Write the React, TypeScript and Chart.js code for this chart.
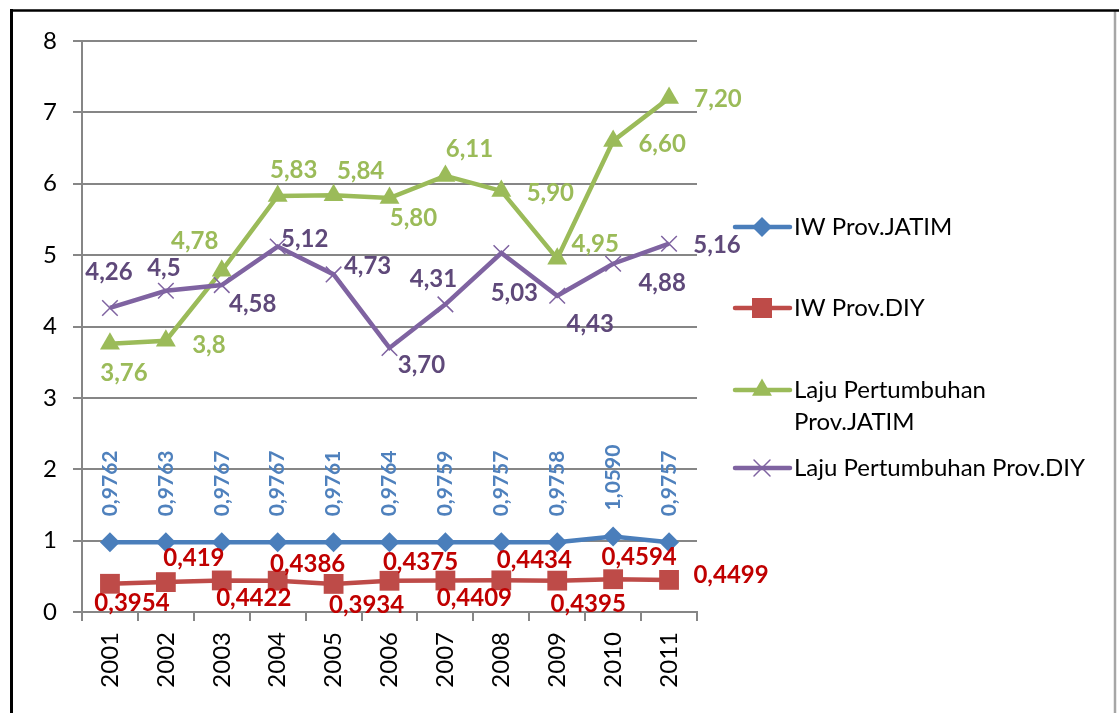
import React, { useEffect, useRef } from 'react';
import { Chart, registerables } from 'chart.js';

Chart.register(...registerables);

// ---------- data ----------
const years = ['2001', '2002', '2003', '2004', '2005', '2006', '2007', '2008', '2009', '2010', '2011'];

const iwJatim = [0.9762, 0.9763, 0.9767, 0.9767, 0.9761, 0.9764, 0.9759, 0.9757, 0.9758, 1.059, 0.9757];
const iwDiy = [0.3954, 0.419, 0.4422, 0.4386, 0.3934, 0.4375, 0.4409, 0.4434, 0.4395, 0.4594, 0.4499];
const lajuJatim = [3.76, 3.8, 4.78, 5.83, 5.84, 5.8, 6.11, 5.9, 4.95, 6.6, 7.2];
const lajuDiy = [4.26, 4.5, 4.58, 5.12, 4.73, 3.7, 4.31, 5.03, 4.43, 4.88, 5.16];

const iwJatimText = ['0,9762', '0,9763', '0,9767', '0,9767', '0,9761', '0,9764', '0,9759', '0,9757', '0,9758', '1,0590', '0,9757'];
const iwDiyText = ['0,3954', '0,419', '0,4422', '0,4386', '0,3934', '0,4375', '0,4409', '0,4434', '0,4395', '0,4594', '0,4499'];
const lajuJatimText = ['3,76', '3,8', '4,78', '5,83', '5,84', '5,80', '6,11', '5,90', '4,95', '6,60', '7,20'];
const lajuDiyText = ['4,26', '4,5', '4,58', '5,12', '4,73', '3,70', '4,31', '5,03', '4,43', '4,88', '5,16'];

const seriesNames = ['IW Prov.JATIM', 'IW Prov.DIY', 'Laju Pertumbuhan Prov.JATIM', 'Laju Pertumbuhan Prov.DIY'];
const legendLines = [['IW Prov.JATIM'], ['IW Prov.DIY'], ['Laju Pertumbuhan', 'Prov.JATIM'], ['Laju Pertumbuhan Prov.DIY']];

const yTicks = [0, 1, 2, 3, 4, 5, 6, 7, 8];

// ---------- styles ----------
const FONT = 'Lato, "Open Sans", sans-serif';
const W = 1119;
const H = 713;
const PLOT = { left: 82, right: 697, top: 41, bottom: 612 };
const GRID = '#868686';

const COLORS = {
  blue: '#4A7EBB',
  red: '#BE4B48',
  green: '#9BBB59',
  purple: '#7F63A1',
};
const LABEL_COLORS = ['#4F81BD', '#C00000', '#9BBB59', '#5F497A'];

// label offsets (dx, dy) relative to each point
const redLabelOffsets = [[22, 19], [28, -24], [32, 18], [30, -16], [33, 21], [31, -19], [29, 18], [33, -20], [31, 24], [26, -22], [62, -5]];
const greenLabelOffsets = [[14, 30], [43, 4], [-27, -30], [16, -26], [27, -24], [24, 20], [24, -27], [49, 2], [38, -14], [49, 3], [49, 1]];
const purpleLabelOffsets = [[-1, -36], [-2, -23], [31, 19], [27, -7], [34, -8], [32, 17], [-12, -25], [13, 40], [33, 28], [49, 20], [48, 2]];
const blueLabelGap = 26;

const legendLayout = { lineX1: 735, lineX2: 790, markerX: 762, textX: 794, ys: [227, 308, 390, 468], lineHeight: 32 };

function drawMarker(ctx: CanvasRenderingContext2D, kind: string, x: number, y: number, color: string) {
  ctx.save();
  ctx.fillStyle = color;
  ctx.strokeStyle = color;
  ctx.beginPath();
  if (kind === 'diamond') {
    const r = 10;
    ctx.moveTo(x - r, y);
    ctx.lineTo(x, y - r);
    ctx.lineTo(x + r, y);
    ctx.lineTo(x, y + r);
    ctx.closePath();
    ctx.fill();
  } else if (kind === 'square') {
    const s = 10;
    ctx.rect(x - s, y - s, 2 * s, 2 * s);
    ctx.fill();
  } else if (kind === 'triangle') {
    const r = 11.5;
    ctx.moveTo(x, y - r);
    ctx.lineTo(x + r * Math.sin((2 * Math.PI) / 3), y + r / 2);
    ctx.lineTo(x - r * Math.sin((2 * Math.PI) / 3), y + r / 2);
    ctx.closePath();
    ctx.fill();
  } else {
    const d = 8;
    ctx.lineWidth = 1.5;
    ctx.moveTo(x - d, y - d);
    ctx.lineTo(x + d, y + d);
    ctx.moveTo(x + d, y - d);
    ctx.lineTo(x - d, y + d);
    ctx.stroke();
  }
  ctx.restore();
}

const labelPlugin = {
  id: 'valueLabels',
  afterDatasetsDraw(chart: any) {
    const ctx: CanvasRenderingContext2D = chart.ctx;
    ctx.save();
    // blue rotated labels
    const m0 = chart.getDatasetMeta(0);
    ctx.font = `bold 21px ${FONT}`;
    ctx.fillStyle = LABEL_COLORS[0];
    m0.data.forEach((pt: any, i: number) => {
      ctx.save();
      ctx.translate(pt.x, pt.y - blueLabelGap);
      ctx.rotate(-Math.PI / 2);
      ctx.textAlign = 'left';
      ctx.textBaseline = 'middle';
      ctx.fillText(iwJatimText[i], 0, 0);
      ctx.restore();
    });
    const groups: [number, string[], number[][]][] = [
      [1, iwDiyText, redLabelOffsets],
      [2, lajuJatimText, greenLabelOffsets],
      [3, lajuDiyText, purpleLabelOffsets],
    ];
    ctx.font = `bold 24px ${FONT}`;
    ctx.textAlign = 'center';
    ctx.textBaseline = 'middle';
    groups.forEach(([idx, texts, offs]) => {
      const meta = chart.getDatasetMeta(idx);
      ctx.fillStyle = LABEL_COLORS[idx];
      meta.data.forEach((pt: any, i: number) => {
        ctx.fillText(texts[i], pt.x + offs[i][0], pt.y + offs[i][1]);
      });
    });
    ctx.restore();
  },
  afterDraw(chart: any) {
    const ctx: CanvasRenderingContext2D = chart.ctx;
    ctx.save();
    // legend
    const colors = [COLORS.blue, COLORS.red, COLORS.green, COLORS.purple];
    const kinds = ['diamond', 'square', 'triangle', 'cross'];
    legendLines.forEach((lines, i) => {
      const y = legendLayout.ys[i];
      ctx.strokeStyle = colors[i];
      ctx.lineWidth = 4.5;
      ctx.lineCap = 'round';
      ctx.beginPath();
      ctx.moveTo(legendLayout.lineX1, y);
      ctx.lineTo(legendLayout.lineX2, y);
      ctx.stroke();
      drawMarker(ctx, kinds[i], legendLayout.markerX, y, colors[i]);
      ctx.fillStyle = '#000';
      ctx.font = `24px ${FONT}`;
      ctx.textAlign = 'left';
      ctx.textBaseline = 'middle';
      lines.forEach((t, k) => ctx.fillText(t, legendLayout.textX, y + k * legendLayout.lineHeight));
    });
    // frame
    ctx.lineCap = 'butt';
    ctx.strokeStyle = '#A6A6A6';
    ctx.lineWidth = 2.5;
    ctx.beginPath();
    ctx.moveTo(1115, 11);
    ctx.lineTo(1115, H);
    ctx.stroke();
    ctx.strokeStyle = '#000';
    ctx.lineWidth = 2.5;
    ctx.beginPath();
    ctx.moveTo(10, 10.5);
    ctx.lineTo(W, 10.5);
    ctx.stroke();
    ctx.lineWidth = 3;
    ctx.beginPath();
    ctx.moveTo(11.5, 9);
    ctx.lineTo(11.5, H);
    ctx.stroke();
    ctx.restore();
  },
};

export default function App() {
  const ref = useRef<HTMLCanvasElement>(null);

  useEffect(() => {
    const canvas = ref.current;
    if (!canvas) return;
    const chart = new Chart(canvas, {
      type: 'line',
      data: {
        labels: years,
        datasets: [
          {
            label: seriesNames[0],
            data: iwJatim,
            borderColor: COLORS.blue,
            backgroundColor: COLORS.blue,
            borderWidth: 4.5,
            pointStyle: 'rectRot',
            pointRadius: 10,
            pointBorderWidth: 0,
            pointBackgroundColor: COLORS.blue,
            order: 3,
          },
          {
            label: seriesNames[1],
            data: iwDiy,
            borderColor: COLORS.red,
            backgroundColor: COLORS.red,
            borderWidth: 4.5,
            pointStyle: 'rect',
            pointRadius: 14,
            pointBorderWidth: 0,
            pointBackgroundColor: COLORS.red,
            order: 2,
          },
          {
            label: seriesNames[2],
            data: lajuJatim,
            borderColor: COLORS.green,
            backgroundColor: COLORS.green,
            borderWidth: 4.5,
            pointStyle: 'triangle',
            pointRadius: 11.5,
            pointBorderWidth: 0,
            pointBackgroundColor: COLORS.green,
            order: 1,
          },
          {
            label: seriesNames[3],
            data: lajuDiy,
            borderColor: COLORS.purple,
            backgroundColor: COLORS.purple,
            borderWidth: 4.5,
            pointStyle: 'crossRot',
            pointRadius: 11,
            pointBorderWidth: 1.5,
            pointBorderColor: COLORS.purple,
            order: 0,
          },
        ] as any,
      },
      options: {
        responsive: false,
        animation: false,
        events: [],
        layout: { padding: { left: 0, top: PLOT.top, right: W - PLOT.right, bottom: 0 } },
        plugins: { legend: { display: false }, tooltip: { enabled: false } },
        scales: {
          x: {
            offset: true,
            grid: { display: true, drawOnChartArea: false, drawTicks: true, tickLength: 9, offset: true, color: GRID, lineWidth: 2 },
            border: { display: true, color: GRID, width: 2 },
            ticks: { minRotation: 90, maxRotation: 90, autoSkip: false, padding: 11, color: '#000', font: { family: FONT, size: 24 } },
            afterFit: (s: any) => {
              s.height = H - PLOT.bottom;
            },
          },
          y: {
            min: yTicks[0],
            max: yTicks[yTicks.length - 1],
            afterBuildTicks: (s: any) => {
              s.ticks = yTicks.map((v) => ({ value: v }));
            },
            ticks: { padding: 16, color: '#000', font: { family: FONT, size: 24 } },
            grid: { color: GRID, lineWidth: 2, tickLength: 9, drawTicks: true },
            border: { display: true, color: GRID, width: 2 },
            afterFit: (s: any) => {
              s.width = PLOT.left;
            },
          },
        },
      } as any,
      plugins: [labelPlugin],
    });
    return () => chart.destroy();
  }, []);

  return (
    <div style={{ position: 'absolute', left: 0, top: 0, width: W, height: H, background: '#fff' }}>
      <canvas ref={ref} width={W} height={H} style={{ display: 'block', width: W, height: H }} />
    </div>
  );
}
